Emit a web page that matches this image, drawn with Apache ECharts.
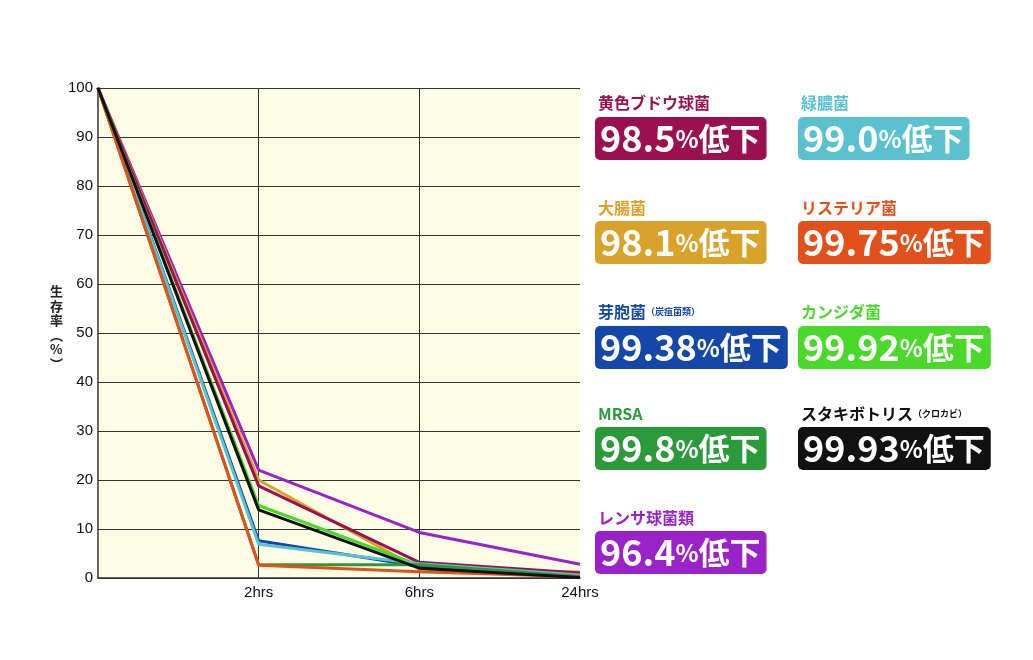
<!DOCTYPE html>
<html><head><meta charset="utf-8">
<script src="https://cdn.jsdelivr.net/npm/echarts@6/dist/echarts.min.js"></script>
<style>html,body{margin:0;padding:0;background:#fff}#c{width:1033px;height:660px}</style>
</head><body><div id="c"></div>
<script>
const categories = ['', '2hrs', '6hrs', '24hrs'];
const yTicks = [0, 10, 20, 30, 40, 50, 60, 70, 80, 90, 100];
const names = ['黄色ブドウ球菌','緑膿菌','大腸菌','リステリア菌','芽胞菌','カンジダ菌','MRSA','スタキボトリス','レンサ球菌類'];
const subNames = ['','','','','（炭疽菌類）','','','（クロカビ）',''];
const reductions = ['98.5','99.0','98.1','99.75','99.38','99.92','99.8','99.93','96.4'];
const colors = ['#9b1050','#5ac2cf','#d9a22b','#e2501c','#1448a8','#4ad82a','#2b9a3a','#111111','#9a22c8'];
const sStaph   = [100, 18.8, 3.2, 1.0];
const sPseudo  = [100, 6.9, 2.9, 0.6];
const sEcoli   = [100, 20.0, 1.8, 1.2];
const sListeria= [100, 2.6, 1.3, 0.25];
const sSpore   = [100, 7.6, 2.4, 0.5];
const sCandida = [100, 14.8, 2.6, 0.2];
const sMRSA    = [100, 2.7, 2.7, 0.3];
const sStachy  = [100, 13.9, 2.0, 0.1];
const sStrep   = [100, 22.0, 9.3, 2.8];
const seriesData = [sStaph, sPseudo, sEcoli, sListeria, sSpore, sCandida, sMRSA, sStachy, sStrep];
const drawOrder = [8, 2, 0, 5, 4, 1, 6, 3, 7];

const chart = echarts.init(document.getElementById('c'));
const font = '"Noto Sans CJK JP", "Noto Sans", sans-serif';
const axisFont = '"Liberation Sans", Arial, sans-serif';

const graphics = [];
const colX = [595, 798];
const titleY = [95, 200, 304, 406, 510];
const boxY = [117, 221, 326, 427, 531];
names.forEach((n, i) => {
  const col = i % 2, row = Math.floor(i / 2);
  graphics.push({
    type: 'text', left: colX[col] + 3, top: titleY[row], z: 10,
    style: {
      text: '{a|' + n + '}' + (subNames[i] ? '{b|' + subNames[i] + '}' : ''),
      rich: {
        a: { fontFamily: font, fontSize: 16, fontWeight: 'bold', fill: colors[i], lineHeight: 19 },
        b: { fontFamily: font, fontSize: 9, fontWeight: 'bold', fill: colors[i], lineHeight: 19 }
      }
    }
  });
  graphics.push({
    type: 'text', left: colX[col], top: boxY[row], z: 10,
    style: {
      text: '{n|' + reductions[i] + '}{p|%}{k|低下}',
      backgroundColor: colors[i], borderRadius: 5, padding: [2, 6, 2, 5],
      rich: {
        n: { fontFamily: font, fontSize: 36, fontWeight: 'bold', fill: '#fff', lineHeight: 39 },
        p: { fontFamily: font, fontSize: 24, fontWeight: 'bold', fill: '#fff', lineHeight: 39 },
        k: { fontFamily: font, fontSize: 31, fontWeight: 'bold', fill: '#fff', lineHeight: 39 }
      }
    }
  });
});
graphics.push({
  type: 'text', left: 50, top: 284, z: 10,
  style: { text: '生\n存\n率\n︵\n%\n︶', fontFamily: font, fontSize: 13, fontWeight: 'bold', lineHeight: 14.5, fill: '#222', align: 'center' }
});

chart.setOption({
  animation: false,
  backgroundColor: '#fff',
  grid: { left: 98, top: 88, width: 482, height: 490, show: true, backgroundColor: '#fdfde6', borderWidth: 0 },
  xAxis: {
    type: 'category', data: categories, boundaryGap: false,
    axisLine: { lineStyle: { color: '#333', width: 1.5 } },
    axisTick: { show: false },
    axisLabel: { color: '#111', fontSize: 15, fontFamily: axisFont, margin: 7 },
    splitLine: { show: true, interval: (idx) => idx === 1 || idx === 2, lineStyle: { color: '#333', width: 1 } }
  },
  yAxis: {
    type: 'value', min: 0, max: 100, interval: 10,
    axisLine: { show: true, lineStyle: { color: '#333', width: 1.5 } },
    axisTick: { show: false },
    axisLabel: { color: '#111', fontSize: 15, fontFamily: axisFont, margin: 5,
      formatter: v => yTicks.includes(v) ? String(v) : '' },
    splitLine: { show: true, lineStyle: { color: '#333', width: 1 } }
  },
  series: drawOrder.map(i => ({
    type: 'line', name: names[i], data: seriesData[i], symbol: 'none',
    lineStyle: { color: colors[i], width: 3 }, itemStyle: { color: colors[i] }
  })),
  graphic: graphics
});
</script></body></html>
